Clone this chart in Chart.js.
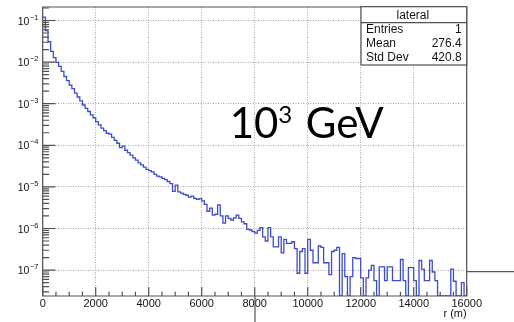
<!DOCTYPE html>
<html>
<head>
<meta charset="utf-8">
<script src="https://cdn.jsdelivr.net/npm/chart.js@4.4.1/dist/chart.umd.min.js"></script>
<style>
  html, body { margin: 0; padding: 0; background: #ffffff; }
  #wrap { width: 514px; height: 322px; position: relative; }
</style>
</head>
<body>
<div id="wrap"><canvas id="c" width="514" height="322"></canvas></div>
<script>
// Lateral distribution histogram: 160 bins of 100 m from 0 to 16000 m.
const binWidth = 100;
const lateral = [
  0.12, 0.057, 0.031, 0.0182, 0.0128, 0.0099, 0.0079, 0.0060, 0.0045, 0.0036,
  0.0028, 0.0023, 0.0018, 0.00145, 0.00117, 0.00093, 0.00077, 0.00065, 0.00054, 0.00046,
  3.7e-4, 3.1e-4, 2.6e-4, 2.25e-4, 1.95e-4, 1.85e-4, 1.55e-4, 1.32e-4, 1.12e-4, 8.8e-5,
  9.6e-5, 7.6e-5, 6.7e-5, 5.8e-5, 5.0e-5, 4.4e-5, 3.8e-5, 3.4e-5, 3.0e-5, 2.65e-5,
  2.45e-5, 2.3e-5, 2.0e-5, 1.82e-5, 1.74e-5, 1.6e-5, 1.5e-5, 1.35e-5, 1.2e-5, 7.8e-6,
  1.1e-5, 7.6e-6, 7.1e-6, 6.6e-6, 6.3e-6, 5.7e-6, 6.0e-6, 5.3e-6, 5.0e-6, 5.2e-6,
  4.6e-6, 3.8e-6, 2.6e-6, 3.1e-6, 2.1e-6, 2.2e-6, 3.7e-6, 2.0e-6, 1.35e-6, 2.0e-6,
  1.75e-6, 1.6e-6, 1.8e-6, 2.1e-6, 1.76e-6, 1.45e-6, 1.3e-6, 9.5e-7, 9.2e-7, 8.4e-7,
  7.7e-7, 9.0e-7, 1.05e-6, 6.3e-7, 5.0e-7, 1.05e-6, 6.3e-7, 3.6e-7, 3.6e-7, 6.3e-7,
  2.6e-7, 5.5e-7, 4.4e-7, 4.4e-7, 4.8e-7, 3.3e-7, 8.4e-8, 2.8e-7, 3.3e-7, 8.4e-8,
  5.5e-7, 3.0e-7, 1.5e-7, 1.5e-7, 3.8e-7, 3.5e-7, 1.5e-7, 1.5e-7, 7.8e-8, 2.8e-7,
  3.0e-7, 3.5e-7, 0, 2.5e-7, 7.0e-8, 0, 7.0e-8, 2.0e-7, 1.9e-7, 1.9e-7,
  6.5e-8, 0, 6.5e-8, 1.0e-7, 1.3e-7, 5.6e-8, 0, 1.2e-7, 1.2e-7, 5.6e-8,
  1.2e-7, 1.2e-7, 5.6e-8, 5.6e-8, 5.6e-8, 1.8e-7, 5.6e-8, 0, 1.15e-7, 1.15e-7,
  5.6e-8, 0, 1.7e-7, 1.05e-7, 5.6e-8, 5.6e-8, 1.7e-7, 9.0e-8, 5.6e-8, 0,
  0, 0, 0, 0, 1.05e-7, 5.4e-8, 0, 0, 5.0e-8, 0
];

const xRange = [0, 16000];
const yRange = [2.384e-8, 0.2111];
const xTickValues = [0, 2000, 4000, 6000, 8000, 10000, 12000, 14000, 16000];
const xMinorStep = 500;
const yDecades = [1e-7, 1e-6, 1e-5, 1e-4, 1e-3, 1e-2, 1e-1];

const statTitle = 'lateral';
const statNames = ['Entries', 'Mean', 'Std Dev'];
const statValues = ['1', '276.4', '420.8'];

const energyBase = '10';
const energyExp = '3';
const energyUnit = 'GeV';

const xTitle = 'r (m)';

// Step outline: one point per bin low edge, plus the closing edge.
// Empty bins sit on the bottom of the log axis.
const floorOf = v => (v > 0 ? v : yRange[0]);
const outline = lateral.map((v, i) => ({ x: i * binWidth, y: floorOf(v) }));
outline.push({ x: lateral.length * binWidth, y: yRange[0] });

const AXIS = '#505050';
const TEXT = '#141414';
const ROOTFONT = '"Liberation Sans", Arial, sans-serif';

const rootFrame = {
  id: 'rootFrame',
  afterDatasetsDraw(chart) {
    const { ctx, chartArea: a, scales: { x, y } } = chart;
    ctx.save();
    ctx.strokeStyle = AXIS;
    ctx.lineWidth = 1.2;

    // y axis ticks, drawn inward: decades long, 2..9 short
    const eLo = Math.floor(Math.log10(yRange[0]));
    const eHi = Math.ceil(Math.log10(yRange[1]));
    ctx.beginPath();
    for (let e = eLo; e <= eHi; e++) {
      for (let m = 1; m <= 9; m++) {
        const v = m * Math.pow(10, e);
        if (v < yRange[0] || v > yRange[1]) continue;
        const py = y.getPixelForValue(v);
        const len = m === 1 ? 12.7 : 6.4;
        ctx.moveTo(a.left, py);
        ctx.lineTo(a.left + len, py);
      }
    }
    // x axis ticks, drawn inward
    for (let v = xRange[0]; v <= xRange[1]; v += xMinorStep) {
      const px = x.getPixelForValue(v);
      const len = (v % 2000 === 0) ? 8.7 : 4.3;
      ctx.moveTo(px, a.bottom);
      ctx.lineTo(px, a.bottom - len);
    }
    ctx.stroke();

    // frame
    ctx.beginPath();
    ctx.moveTo(a.left, a.top);
    ctx.lineTo(a.right, a.top);
    ctx.lineTo(a.right, a.bottom);
    ctx.lineTo(a.left, a.bottom);
    ctx.closePath();
    ctx.stroke();

    // decade labels with superscript exponent
    ctx.fillStyle = TEXT;
    ctx.textBaseline = 'middle';
    ctx.textAlign = 'right';
    yDecades.forEach(v => {
      const py = y.getPixelForValue(v);
      const ex = Math.round(Math.log10(v));
      const sup = (ex < 0 ? '\u2212' : '') + Math.abs(ex);
      const right = a.left - 4.2;
      ctx.font = '7.5px ' + ROOTFONT;
      const w = ctx.measureText(sup).width;
      ctx.fillText(sup, right, py - 3);
      ctx.font = '10.5px ' + ROOTFONT;
      ctx.fillText('10', right - w - 0.6, py + 1.2);
    });
    ctx.restore();
  },
  afterDraw(chart) {
    const { ctx, chartArea: a } = chart;
    ctx.save();

    // statistics box in the top right corner of the frame
    const bw = 105.7, bh = 58.3;
    const bx = a.right - bw, by = a.top - 0.3;
    ctx.fillStyle = '#ffffff';
    ctx.fillRect(bx, by, bw, bh);
    ctx.strokeStyle = AXIS;
    ctx.lineWidth = 1.2;
    ctx.strokeRect(bx, by, bw, bh);
    ctx.beginPath();
    ctx.moveTo(bx, by + 16);
    ctx.lineTo(bx + bw, by + 16);
    ctx.stroke();

    ctx.fillStyle = TEXT;
    ctx.font = '12px ' + ROOTFONT;
    ctx.textBaseline = 'middle';
    ctx.textAlign = 'center';
    ctx.fillText(statTitle, bx + bw / 2 - 1, by + 8.5);
    statNames.forEach((name, i) => {
      const ry = by + 22.5 + i * 14.4;
      ctx.textAlign = 'left';
      ctx.fillText(name, bx + 5, ry);
      ctx.textAlign = 'right';
      ctx.fillText(statValues[i], bx + bw - 5, ry);
    });

    // energy annotation
    ctx.fillStyle = '#000000';
    ctx.textBaseline = 'alphabetic';
    ctx.textAlign = 'left';
    const baseY = 138.3;
    ctx.font = '42px Lato, "Open Sans", sans-serif';
    let m = ctx.measureText(energyBase);
    ctx.fillText(energyBase, 232.7 + m.actualBoundingBoxLeft, baseY);
    ctx.font = '42px Lato, "Open Sans", sans-serif';
    m = ctx.measureText(energyUnit);
    ctx.fillText(energyUnit, 306.7 + m.actualBoundingBoxLeft, baseY);
    ctx.font = '24px Lato, "Open Sans", sans-serif';
    m = ctx.measureText(energyExp);
    ctx.fillText(energyExp, 279.3 + m.actualBoundingBoxLeft, 122.7);

    // thin guide lines outside the frame
    ctx.strokeStyle = '#555555';
    ctx.lineWidth = 1.2;
    ctx.beginPath();
    ctx.moveTo(a.right, 271.7);
    ctx.lineTo(chart.width, 271.7);
    ctx.moveTo(255, a.bottom);
    ctx.lineTo(255, chart.height);
    ctx.stroke();
    ctx.restore();
  }
};

new Chart(document.getElementById('c').getContext('2d'), {
  type: 'line',
  data: {
    datasets: [{
      data: outline,
      stepped: 'before',
      borderColor: '#3e4bcc',
      borderWidth: 1.3,
      pointRadius: 0,
      fill: false,
      tension: 0
    }]
  },
  options: {
    responsive: false,
    animation: false,
    devicePixelRatio: 1,
    layout: { padding: { left: 0, right: 47.3, top: 7, bottom: 0 } },
    plugins: { legend: { display: false }, tooltip: { enabled: false } },
    scales: {
      x: {
        type: 'linear',
        min: xRange[0],
        max: xRange[1],
        afterBuildTicks: s => { s.ticks = xTickValues.map(v => ({ value: v })); },
        ticks: {
          autoSkip: false,
          maxRotation: 0,
          padding: 1,
          color: TEXT,
          font: { family: ROOTFONT, size: 11 },
          callback: v => String(v)
        },
        grid: { color: '#a8a8a8', lineWidth: 1, drawTicks: false },
        border: { display: false, dash: [1, 1.5] },
        title: {
          display: true,
          text: xTitle,
          align: 'end',
          color: TEXT,
          font: { family: ROOTFONT, size: 11 },
          padding: { top: 0, bottom: 1.4 }
        },
        afterFit: s => { s.height = 26; }
      },
      y: {
        type: 'logarithmic',
        min: yRange[0],
        max: yRange[1],
        afterBuildTicks: s => { s.ticks = yDecades.map(v => ({ value: v })); },
        ticks: { display: false },
        grid: { color: '#a8a8a8', lineWidth: 1, drawTicks: false },
        border: { display: false, dash: [1, 1.5] },
        afterFit: s => { s.width = 42.7; }
      }
    }
  },
  plugins: [rootFrame]
});
</script>
</body>
</html>
